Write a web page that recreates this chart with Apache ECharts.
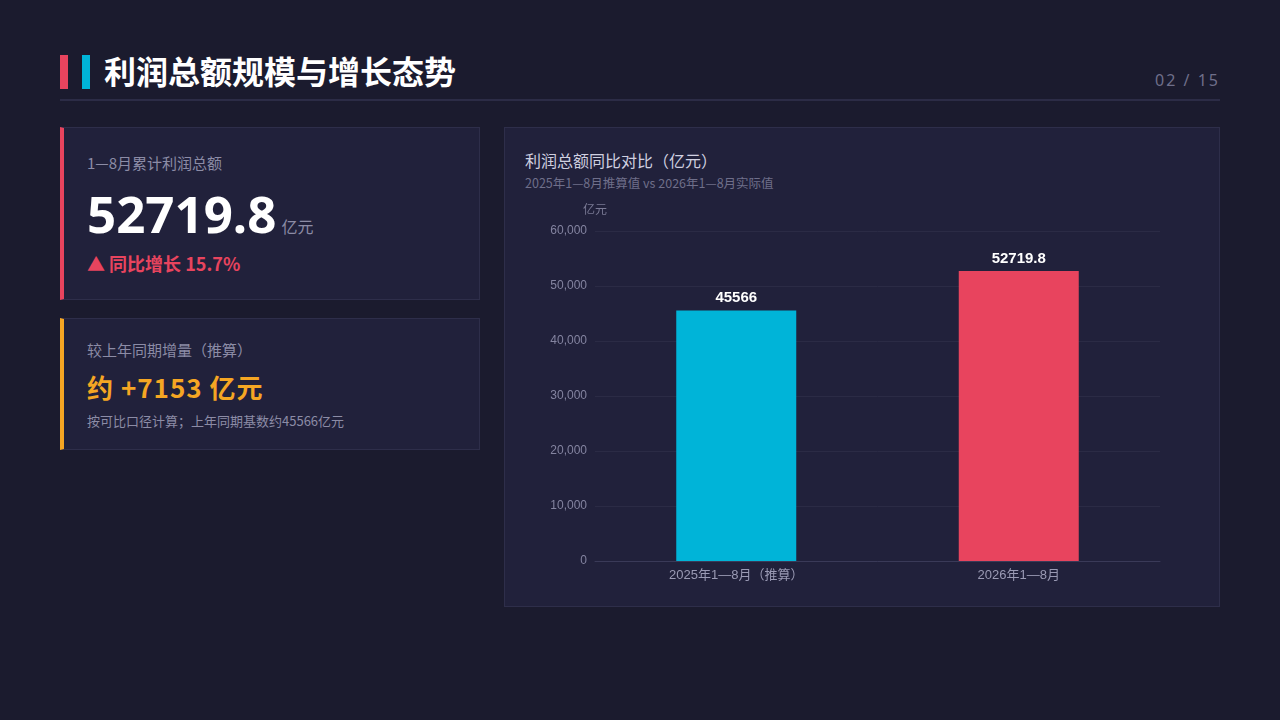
<!DOCTYPE html>
<html><head><meta charset="utf-8">
<script src="https://cdn.jsdelivr.net/npm/echarts@6/dist/echarts.min.js"></script>
<style>
html,body{margin:0;padding:0;width:1280px;height:720px;background:#1b1b2e;overflow:hidden;font-family:"Noto Sans CJK SC","Noto Sans",sans-serif;}
.abs{position:absolute;}
.card{position:absolute;background:#21213b;border:1px solid #2e2e4a;box-sizing:border-box;}
</style></head><body>
<div class="abs" style="left:60px;top:55px;width:8px;height:34px;background:#e8445e"></div>
<div class="abs" style="left:82px;top:55px;width:8px;height:34px;background:#00b4d8"></div>
<div class="abs" style="left:104px;top:48px;font-size:32px;font-weight:700;color:#ffffff;line-height:44px;white-space:nowrap;">利润总额规模与增长态势</div>
<div class="abs" style="right:60px;top:68px;font-size:16px;color:#6f6f8a;letter-spacing:2px;line-height:24px;font-family:'Noto Sans',sans-serif;">02 / 15</div>
<div class="abs" style="left:60px;top:99px;width:1160px;height:2px;background:#2c2c46"></div>

<div class="card" style="left:60px;top:127px;width:420px;height:173px;border-left:4px solid #e8445e;">
  <div class="abs" style="left:23px;top:24px;font-size:15px;color:#8c8ca6;line-height:22px;">1—8月累计利润总额</div>
  <div class="abs" style="left:23px;top:52px;white-space:nowrap;line-height:66px;">
    <span style="font-size:51px;font-weight:700;color:#ffffff;font-family:'Noto Sans',sans-serif;">52719.8</span><span style="font-size:16px;color:#8c8ca6;margin-left:5px;">亿元</span>
  </div>
  <div class="abs" style="left:23px;top:122px;font-size:18px;font-weight:700;color:#e8445e;line-height:26px;white-space:nowrap;">▲ 同比增长 15.7%</div>
</div>

<div class="card" style="left:60px;top:318px;width:420px;height:132px;border-left:4px solid #f5a623;">
  <div class="abs" style="left:23px;top:20px;font-size:15px;color:#8c8ca6;line-height:22px;">较上年同期增量（推算）</div>
  <div class="abs" style="left:23px;top:49px;font-size:26px;font-weight:700;color:#f5a623;line-height:38px;letter-spacing:1px;white-space:nowrap;">约 +7153 亿元</div>
  <div class="abs" style="left:23px;top:92px;font-size:13px;color:#8c8ca6;line-height:20px;white-space:nowrap;">按可比口径计算；上年同期基数约45566亿元</div>
</div>

<div class="card" style="left:504px;top:127px;width:716px;height:480px;">
  <div class="abs" style="left:20px;top:20px;font-size:16px;color:#d0d0e0;line-height:24px;white-space:nowrap;">利润总额同比对比（亿元）</div>
  <div class="abs" style="left:20px;top:46px;font-size:12.5px;color:#6f6f8a;line-height:18px;white-space:nowrap;">2025年1—8月推算值 vs 2026年1—8月实际值</div>
</div>
<div id="chart" class="abs" style="left:504px;top:127px;width:716px;height:480px;"></div>
<script>
const categories = ['2025年1—8月（推算）', '2026年1—8月'];
const values = [45566, 52719.8];
const barColors = ['#00b4d8', '#e8445e'];
const yTicks = { min: 0, max: 60000, interval: 10000 };

const chart = echarts.init(document.getElementById('chart'), null, {renderer:'canvas'});
chart.setOption({
  backgroundColor: 'transparent',
  animation: false,
  grid: { left: 91, right: 60, top: 104, bottom: 46, containLabel: false },
  xAxis: {
    type: 'category',
    data: categories,
    axisLine: { lineStyle: { color: '#3a3a58' } },
    axisTick: { show: false },
    axisLabel: { color: '#9a9ab4', fontSize: 13, margin: 8, fontFamily: 'Liberation Sans, Noto Sans CJK SC, sans-serif' }
  },
  yAxis: {
    type: 'value',
    min: yTicks.min, max: yTicks.max, interval: yTicks.interval,
    name: '亿元',
    nameGap: 16,
    nameTextStyle: { color: '#7a7a95', fontSize: 12, fontFamily: 'Noto Sans CJK SC, sans-serif' },
    axisLine: { show: false },
    axisTick: { show: false },
    splitLine: { lineStyle: { color: '#2b2b45' } },
    axisLabel: { color: '#8484a0', fontSize: 12, margin: 8, fontFamily: 'Liberation Sans, sans-serif',
      formatter: v => v.toLocaleString('en-US') }
  },
  series: [{
    type: 'bar',
    barWidth: 120,
    data: values.map((v, i) => ({ value: v, itemStyle: { color: barColors[i] } })),
    label: {
      show: true, position: 'top', distance: 5,
      color: '#ffffff', fontSize: 15, fontWeight: 'bold', fontFamily: 'Liberation Sans, sans-serif',
      formatter: p => String(p.value)
    }
  }]
});
</script>
</body></html>
